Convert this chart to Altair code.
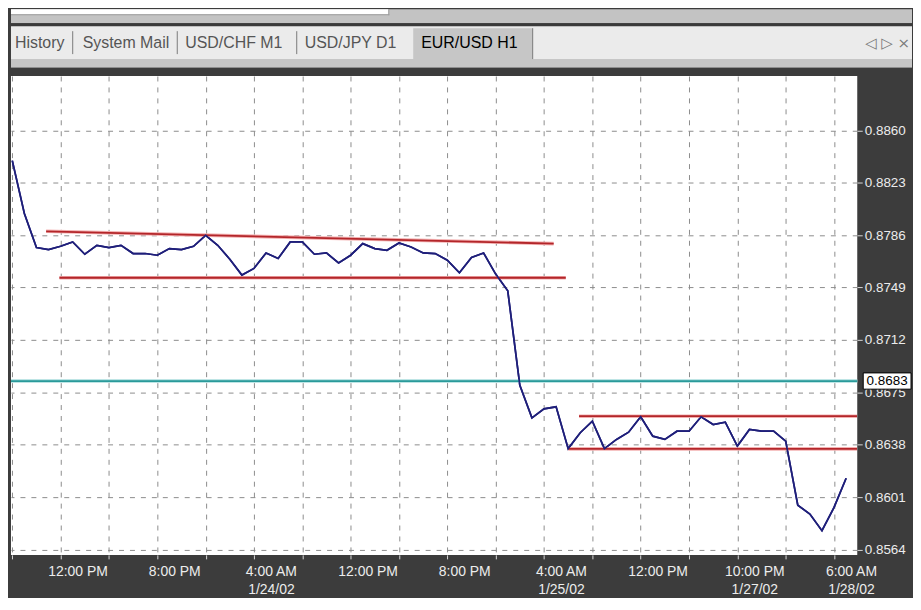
import json
import altair as alt
import pandas as pd

# ---------------- data ----------------
bar_index = list(range(70))  # hourly bars, weekend gap collapsed
close_price = [
    0.88386, 0.88013, 0.87772, 0.87758, 0.87781, 0.87812, 0.87725, 0.87788, 0.87772, 0.87788,
    0.87730, 0.87730, 0.87718, 0.87765, 0.87758, 0.87781, 0.87859, 0.87788, 0.87690, 0.87578,
    0.87625, 0.87734, 0.87695, 0.87812, 0.87812, 0.87725, 0.87734, 0.87664, 0.87718, 0.87800,
    0.87765, 0.87753, 0.87804, 0.87776, 0.87734, 0.87730, 0.87683, 0.87594, 0.87702, 0.87734,
    0.87585, 0.87467, 0.86800, 0.86570, 0.86634, 0.86648, 0.86353, 0.86465, 0.86547, 0.86353,
    0.86418, 0.86469, 0.86578, 0.86441, 0.86418, 0.86476, 0.86476, 0.86578, 0.86523, 0.86540,
    0.86371, 0.86488, 0.86476, 0.86476, 0.86406, 0.85954, 0.85891, 0.85774, 0.85938, 0.86144,
]

# trend lines drawn on the chart (start bar, start price, end bar, end price)
trend_h1 = [2.8, 3.9, 46.9, 46.0]
trend_p1 = [0.87887, 0.87559, 0.86582, 0.86351]
trend_h2 = [44.8, 45.8, 69.9, 69.9]
trend_p2 = [0.87800, 0.87559, 0.86582, 0.86351]

hline_price = [0.8683]

grid_hours = list(range(0, 69, 4))
label_hours = [4, 12, 20, 28, 36, 44, 52, 60, 68]
label_times = ["12:00 PM", "8:00 PM", "4:00 AM", "12:00 PM", "8:00 PM",
               "4:00 AM", "12:00 PM", "10:00 PM", "6:00 AM"]
label_dates = ["", "", "1/24/02", "", "", "1/25/02", "", "1/27/02", "1/28/02"]

price_ticks = [0.8564, 0.8601, 0.8638, 0.8675, 0.8712, 0.8749, 0.8786, 0.8823, 0.8860]

tab_names = ["History", "System Mail", "USD/CHF M1", "USD/JPY D1", "EUR/USD H1"]

# ---------------- tables ----------------
price_df = pd.DataFrame({"h": bar_index, "price": close_price})
trend_df = pd.DataFrame({"h1": trend_h1, "p1": trend_p1, "h2": trend_h2, "p2": trend_p2})
hline_df = pd.DataFrame({"p": hline_price})
one = alt.Data(values=[{}])

FONT = "Liberation Sans, Arial, sans-serif"
BG = "#3c3c3c"
GRID = "#8c8c8c"

hj = json.dumps(label_hours)
tj = json.dumps(label_times)
dj = json.dumps(label_dates)
idx = f"indexof({hj}, datum.value)"
label_expr = f"{idx} < 0 ? '' : [{tj}[{idx}], {dj}[{idx}]]"

xscale = alt.Scale(domain=[-0.107, 69.92], nice=False, zero=False)
yscale = alt.Scale(domain=[0.85603, 0.88983], nice=False, zero=False)

xaxis = alt.Axis(
    values=grid_hours, orient="bottom", title=None, domain=False,
    grid=True, gridColor=GRID, gridDash=[5, 6], gridWidth=1,
    ticks=True, tickColor="#d8d8d8", tickSize=4,
    labelExpr=label_expr, labelAlign="center", labelOffset=17, labelBaseline="top",
    labelPadding=6, labelColor="#ececec", labelFont=FONT, labelFontSize=14,
    labelLineHeight=18, labelOverlap=False, labelFlush=False, labelBound=False,
    zindex=0,
)
yaxis = alt.Axis(
    values=price_ticks, orient="right", title=None, domain=False, format=".4f",
    grid=True, gridColor=GRID, gridDash=[5, 6], gridWidth=1,
    ticks=True, tickColor="#d8d8d8", tickSize=5,
    labelPadding=2, labelColor="#ececec", labelFont=FONT, labelFontSize=13.5,
    labelOverlap=False, labelFlush=False, labelBound=False, zindex=0,
)


def box(x, x2, y, y2, color):
    return alt.Chart(one).mark_rect(color=color).encode(
        x=alt.value(x), x2=alt.value(x2), y=alt.value(y), y2=alt.value(y2))


def vline(x, y, y2, color):
    return alt.Chart(one).mark_rule(color=color, strokeWidth=1).encode(
        x=alt.value(x), y=alt.value(y), y2=alt.value(y2))


def label(text, x, y, color, size=16, align="left", font=FONT):
    return alt.Chart(one).mark_text(
        text=text, align=align, baseline="middle", font=font, fontSize=size, color=color
    ).encode(x=alt.value(x), y=alt.value(y))


# ---------------- header (window tabs) ----------------
header = [
    box(0, 905, -67, -53, "#c3c3c3"),
    box(0, 379, -67, -62, "#ffffff"),
    box(0, 380, -62, -61, "#9c9c9c"),
    box(379, 380, -67, -61, "#9c9c9c"),
    box(0, 905, -53, -50, "#3a3a3a"),
    box(0, 905, -50, -17, "#ebebeb"),
    box(404, 524, -48, -17, "#c6c6c6"),
    box(0, 905, -17, -8, "#c6c6c6"),
    box(0, 905, -9, -8, "#8e8e8e"),
    vline(62, -45, -22, "#7a7a7a"),
    vline(167, -45, -22, "#7a7a7a"),
    vline(287, -45, -22, "#7a7a7a"),
    vline(524, -48, -17, "#7a7a7a"),
]
tab_x = [4, 72, 175, 295, 412]
for i, name in enumerate(tab_names):
    col = "#000000" if i == len(tab_names) - 1 else "#555555"
    header.append(label(name, tab_x[i], -33, col))
header.append(label("\u25C1 \u25B7 \u00D7", 903, -33, "#7a7a7a", size=15, align="right",
                    font="DejaVu Sans"))

# ---------------- chart layers ----------------
hline_halo = alt.Chart(hline_df).mark_rule(color="#a8dcdc", strokeWidth=3.5).encode(
    y=alt.Y("p:Q", scale=yscale, axis=yaxis))
hline = alt.Chart(hline_df).mark_rule(color="#2a9a9a", strokeWidth=1.8).encode(
    y=alt.Y("p:Q", scale=yscale, axis=yaxis))

trend_halo = alt.Chart(trend_df).mark_rule(color="#f3b0b0", strokeWidth=3.6).encode(
    x=alt.X("h1:Q", scale=xscale, axis=xaxis), x2="h2:Q",
    y=alt.Y("p1:Q", scale=yscale, axis=yaxis), y2="p2:Q")
trend = alt.Chart(trend_df).mark_rule(color="#b3262a", strokeWidth=1.8).encode(
    x=alt.X("h1:Q", scale=xscale, axis=xaxis), x2="h2:Q",
    y=alt.Y("p1:Q", scale=yscale, axis=yaxis), y2="p2:Q")

price_line = alt.Chart(price_df).mark_line(color="#1f1f7a", strokeWidth=1.7).encode(
    x=alt.X("h:Q", scale=xscale, axis=xaxis),
    y=alt.Y("price:Q", scale=yscale, axis=yaxis))

price_box = alt.Chart(hline_df).mark_point(
    shape="M-1,-0.34H1V0.34H-1Z", size=2304, filled=True, fill="white",
    stroke="black", strokeWidth=1, opacity=1
).encode(x=alt.value(880), y=alt.Y("p:Q", scale=yscale, axis=yaxis))
price_text = alt.Chart(hline_df).mark_text(
    align="center", baseline="middle", font=FONT, fontSize=13.5, color="black"
).encode(x=alt.value(880), y=alt.Y("p:Q", scale=yscale, axis=yaxis),
         text=alt.Text("p:Q", format=".4f"))

chart = alt.layer(
    price_line, *header, hline_halo, hline, trend_halo, trend, price_line, price_box, price_text
).properties(width=850, height=481, padding=0).configure(
    background=BG
).configure_view(fill="white", stroke=None)

chart.save("out.html", embed_options={"renderer": "svg", "actions": False})
